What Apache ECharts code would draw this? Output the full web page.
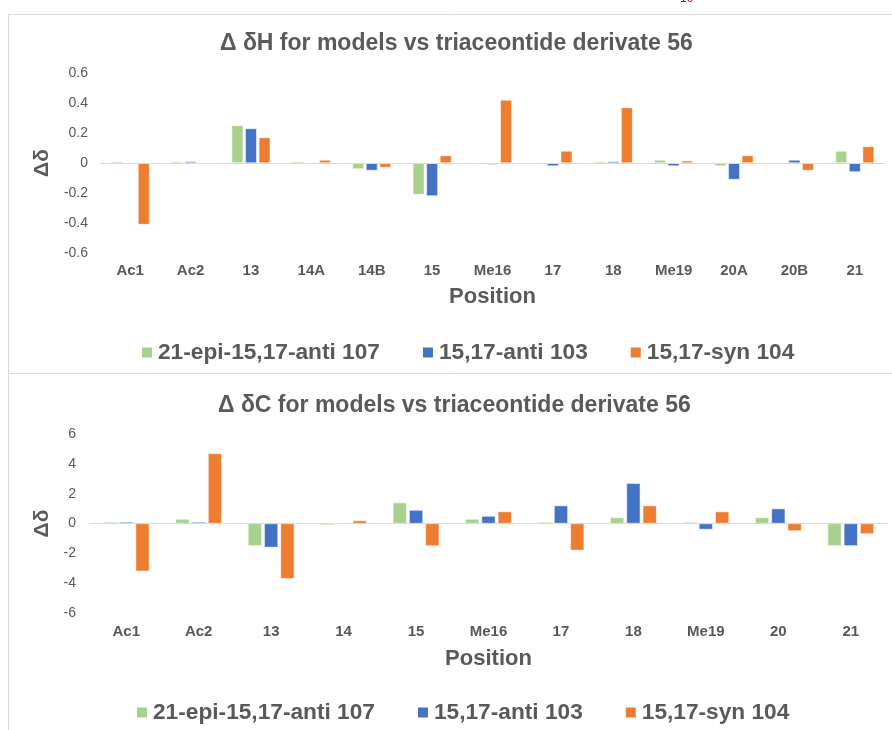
<!DOCTYPE html>
<html>
<head>
<meta charset="utf-8">
<script src="https://cdn.jsdelivr.net/npm/echarts@6/dist/echarts.min.js"></script>
<style>
html,body{margin:0;padding:0;background:#fff;}
#chart{width:892px;height:730px;}
</style>
</head>
<body>
<div id="chart"></div>
<script>
// ---- Data ----
const seriesNames = ['21-epi-15,17-anti 107', '15,17-anti 103', '15,17-syn 104'];
const colors = ['#A9D18E', '#4472C4', '#ED7D31'];

const titleH = 'Δ δH for models vs triaceontide derivate 56';
const categoriesH = ['Ac1', 'Ac2', '13', '14A', '14B', '15', 'Me16', '17', '18', 'Me19', '20A', '20B', '21'];
const epi107H  = [0.01, 0.01, 0.25, 0.01, -0.04, -0.21, 0, 0, 0.01, 0.02, -0.02, 0, 0.08];
const anti103H = [0, 0.01, 0.23, 0, -0.05, -0.22, -0.01, -0.02, 0.01, -0.02, -0.11, 0.02, -0.06];
const syn104H  = [-0.41, 0, 0.17, 0.02, -0.03, 0.05, 0.42, 0.08, 0.37, 0.015, 0.05, -0.05, 0.11];
const yTicksH = { min: -0.6, max: 0.6, interval: 0.2 };

const titleC = 'Δ δC for models vs triaceontide derivate 56';
const categoriesC = ['Ac1', 'Ac2', '13', '14', '15', 'Me16', '17', '18', 'Me19', '20', '21'];
const epi107C  = [0.1, 0.3, -1.5, -0.1, 1.4, 0.3, 0.1, 0.4, 0.1, 0.4, -1.5];
const anti103C = [0.1, 0.1, -1.6, 0, 0.9, 0.5, 1.2, 2.7, -0.4, 1.0, -1.5];
const syn104C  = [-3.2, 4.7, -3.7, 0.2, -1.5, 0.8, -1.8, 1.2, 0.8, -0.5, -0.7];
const yTicksC = { min: -6, max: 6, interval: 2 };

const axisNameX = 'Position';
const axisNameY = 'Δδ';

// ---- Chart ----
const FONT = '"Liberation Sans", Arial, sans-serif';
const GREY = '#595959';
const LINE = '#D9D9D9';

function makeSeries(values, gridIdx) {
  return values.map((vals, i) => {
    const s = {
      name: seriesNames[i],
      type: 'bar',
      xAxisIndex: gridIdx,
      yAxisIndex: gridIdx,
      data: vals,
      barGap: '18%',
      barCategoryGap: '36%',
      itemStyle: { color: colors[i], borderColor: '#ffffff', borderWidth: 0.5 },
      emphasis: { disabled: true }
    };
    if (i === 0) {
      s.markLine = {
        silent: true, symbol: 'none', animation: false,
        label: { show: false },
        lineStyle: { color: LINE, width: 1.2, type: 'solid' },
        data: [{ yAxis: 0 }]
      };
    }
    return s;
  });
}

function xAxis(cats, gridIdx, margin, nameGap) {
  return {
    type: 'category', gridIndex: gridIdx, data: cats,
    axisLine: { show: false, onZero: false }, axisTick: { show: false },
    axisLabel: { color: GREY, fontFamily: FONT, fontWeight: 'bold', fontSize: 15, margin: margin, interval: 0 },
    name: axisNameX, nameLocation: 'middle', nameGap: nameGap,
    nameTextStyle: { color: GREY, fontFamily: FONT, fontWeight: 'bold', fontSize: 22 },
    splitLine: { show: false }
  };
}
function yAxis(t, gridIdx, margin, nameGap) {
  return {
    type: 'value', gridIndex: gridIdx, min: t.min, max: t.max, interval: t.interval,
    axisLine: { show: false }, axisTick: { show: false }, splitLine: { show: false },
    axisLabel: { color: GREY, fontFamily: FONT, fontSize: 14, margin: margin },
    name: axisNameY, nameLocation: 'middle', nameGap: nameGap, nameRotate: 90,
    nameTextStyle: { color: GREY, fontFamily: FONT, fontWeight: 'bold', fontSize: 21 }
  };
}
function legend(left, top) {
  return {
    left: left, top: top, itemGap: 41, itemWidth: 12, itemHeight: 12,
    icon: 'rect', selectedMode: false,
    data: seriesNames,
    textStyle: { color: GREY, fontFamily: FONT, fontWeight: 'bold', fontSize: 22.7, padding: [0, 0, 0, 0] }
  };
}

const chart = echarts.init(document.getElementById('chart'), null, { renderer: 'canvas' });
chart.setOption({
  animation: false,
  backgroundColor: '#ffffff',
  title: [
    { text: titleH, left: 215, top: 27, textStyle: { color: GREY, fontFamily: FONT, fontWeight: 'bold', fontSize: 23 } },
    { text: titleC, left: 213, top: 389, textStyle: { color: GREY, fontFamily: FONT, fontWeight: 'bold', fontSize: 23 } }
  ],
  legend: [legend(135, 336), legend(130, 696)],
  grid: [
    { left: 100, right: 7, top: 73, height: 180, containLabel: false },
    { left: 90, right: 5, top: 434, height: 179, containLabel: false }
  ],
  xAxis: [xAxis(categoriesH, 0, 10, 33), xAxis(categoriesC, 1, 11, 35)],
  yAxis: [yAxis(yTicksH, 0, 12, 47), yAxis(yTicksC, 1, 14, 37)],
  series: [].concat(
    makeSeries([epi107H, anti103H, syn104H], 0),
    makeSeries([epi107C, anti103C, syn104C], 1)
  ),
  graphic: [
    { type: 'polyline', silent: true, shape: { points: [[892, 14.5], [8.5, 14.5], [8.5, 373.5], [892, 373.5]] }, style: { stroke: LINE, lineWidth: 1, fill: null } },
    { type: 'line', silent: true, shape: { x1: 8.5, y1: 374, x2: 8.5, y2: 730 }, style: { stroke: LINE, lineWidth: 1 } },
    { type: 'text', silent: true, left: 680, top: -7, style: { text: '10', fill: '#C00000', font: '12px "Liberation Sans", Arial, sans-serif' } }
  ]
});
</script>
</body>
</html>
